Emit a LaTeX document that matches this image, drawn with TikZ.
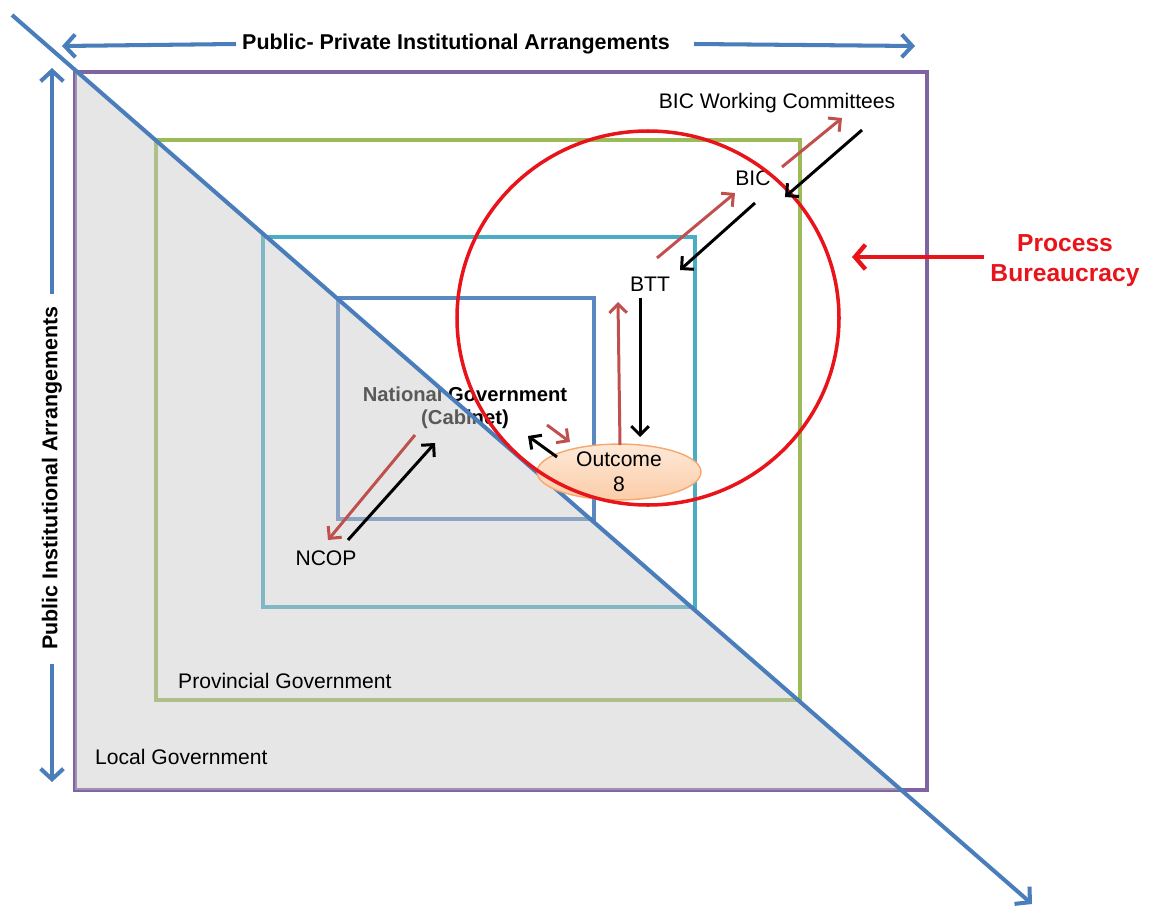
\documentclass[tikz,border=0pt]{standalone}
\usepackage{fontspec}
\setmainfont{Liberation Sans}
\usetikzlibrary{arrows.meta,shapes.geometric}

\definecolor{bleuaxe}{HTML}{4A7EBB}
\definecolor{violet}{HTML}{8064A2}
\definecolor{vert}{HTML}{9BBB59}
\definecolor{turquoise}{HTML}{4BACC6}
\definecolor{bleucadre}{HTML}{5A88C0}
\definecolor{brique}{HTML}{C0504D}
\definecolor{rougevif}{HTML}{E8141A}
\definecolor{peche}{HTML}{FBC79E}
\definecolor{pechebord}{HTML}{F5A86E}

\tikzset{
  texte/.style={font=\fontsize{12}{14}\selectfont, align=center},
  titre/.style={font=\bfseries\fontsize{12.2}{14}\selectfont},
  axe/.style={draw=bleuaxe, line width=2.3pt, -{Straight Barb[length=6pt,width=13pt]}},
  cadre/.style={line width=1.9pt},
  aller/.style={draw=brique, line width=1.7pt, -{Straight Barb[length=5pt,width=10pt]}},
  retour/.style={draw=black, line width=1.7pt, -{Straight Barb[length=5pt,width=10pt]}}
}

\begin{document}
\begin{tikzpicture}[x=0.02cm, y=-0.02cm]
    \useasboundingbox (0,0) rectangle (1149,906);

    % Les cadres emboites
    \draw[cadre, violet] (75,72) rectangle (927,790);
    \draw[cadre, vert] (156,140) rectangle (800,700);
    \draw[cadre, turquoise] (263,237) rectangle (695,607);
    \draw[cadre, bleucadre] (338,298) rectangle (594,519);

    \node[texte, font=\bfseries\fontsize{11.5}{13}\selectfont] (cab) at (465,408) {National Government\\(Cabinet)};

    % Le triangle gris sous la diagonale
    \fill[black!22, opacity=0.45] (75,72) -- (900,790) -- (75,790) -- cycle;

    % Les axes
    \node[titre] (titreH) at (456,44) {Public- Private Institutional Arrangements};
    \node[titre, rotate=90] (titreV) at (52,478) {Public Institutional Arrangements};
    \coordinate (hg) at (62,46);
    \coordinate (hd) at (915,46);
    \coordinate (vh) at (52,68);
    \coordinate (vb) at (52,782);
    \coordinate (d1) at (12,15);
    \coordinate (d2) at (1032,904);
    \draw[axe] (titreH.west) -- (hg);
    \draw[axe] ([shift={(18,0)}]titreH.east) -- (hd);
    \draw[axe] ([shift={(0,-6)}]titreV.east) -- (vh);
    \draw[axe] ([shift={(0,8)}]titreV.west) -- (vb);
    \draw[axe] (d1) -- (d2);

    % Les etiquettes
    \node[texte] (wc) at (777,103) {BIC Working Committees};
    \node[texte] (bic) at (753,178) {BIC};
    \node[texte] (btt) at (650,284) {BTT};
    \node[texte] (ncop) at (326,558) {NCOP};
    \node[texte, anchor=west] (prov) at (172,681) {Provincial Government};
    \node[texte, anchor=west] (loc) at (89,757) {Local Government};

    \node[ellipse, draw=pechebord, line width=0.8pt, top color=peche!40, bottom color=peche!90,
          minimum width=3.28cm, minimum height=1.08cm, inner sep=0pt, texte] (out) at (619,472) {Outcome\\8};

    % Le cercle du processus
    \draw[rougevif, line width=2pt] (648,318) ellipse [x radius=191, y radius=187];
    \node[font=\bfseries\fontsize{14}{17}\selectfont, text=rougevif, align=center] (proc) at (1065,261) {Process\\Bureaucracy};
    \coordinate (pb) at (852,257);
    \draw[draw=rougevif, line width=2.5pt, -{Straight Barb[length=6pt,width=14pt]}] ([shift={(0,-4)}]proc.west) -- (pb);

    % Les fleches entre les niveaux
    \draw[aller] ([shift={(7,-26)}]btt.center) -- ([shift={(-18,15)}]bic.center);
    \draw[aller] ([shift={(29,-11)}]bic.center) -- ([shift={(65,15)}]wc.center);
    \draw[retour] ([shift={(85,27)}]wc.center) -- ([shift={(32,19)}]bic.center);
    \draw[retour] ([shift={(2,25)}]bic.center) -- ([shift={(30,-14)}]btt.center);
    \draw[retour] ([shift={(-10,14)}]btt.center) -- ([shift={(21,-35)}]out.center);
    \draw[aller] ([shift={(1,-27)}]out.center) -- ([shift={(-32,18)}]btt.center);
    \draw[aller] ([shift={(82,17)}]cab.center) -- ([shift={(-49,-30)}]out.center);
    \draw[retour] ([shift={(-62,-15)}]out.center) -- ([shift={(63,28)}]cab.center);
    \draw[aller] ([shift={(-50,27)}]cab.center) -- ([shift={(2,-18)}]ncop.center);
    \draw[retour] ([shift={(22,-18)}]ncop.center) -- ([shift={(-30,35)}]cab.center);

\end{tikzpicture}
\end{document}
